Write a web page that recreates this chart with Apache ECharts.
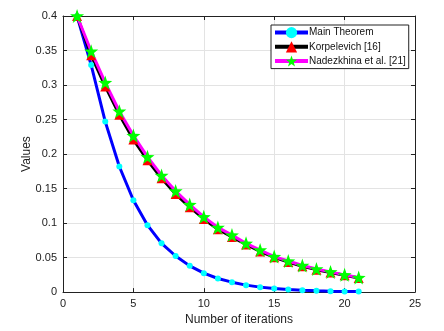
<!DOCTYPE html>
<html>
<head>
<meta charset="utf-8">
<script src="https://cdn.jsdelivr.net/npm/echarts@6/dist/echarts.min.js"></script>
<style>
  html, body { margin: 0; padding: 0; background: #fff; }
  #grafica { width: 444px; height: 331px; }
</style>
</head>
<body>
<div id="grafica"></div>
<script>
// iteraciones 1..21
var iteraciones = [1, 2, 3, 4, 5, 6, 7, 8, 9, 10, 11, 12, 13, 14, 15, 16, 17, 18, 19, 20, 21]
var mainTheorem = [0.4, 0.329, 0.247, 0.182, 0.133, 0.097, 0.0706, 0.0523, 0.038, 0.0274, 0.0197,
  0.0144, 0.0101, 0.0072, 0.0053, 0.0039, 0.0028, 0.002, 0.0014, 0.001, 0.0007]
var korpelevich = [0.4, 0.343, 0.298, 0.257, 0.221, 0.191, 0.165, 0.142, 0.123, 0.106, 0.091,
  0.08, 0.069, 0.059, 0.0505, 0.0435, 0.0375, 0.0325, 0.0283, 0.0243, 0.0205]
var nadezkhina = [0.4, 0.349, 0.3036, 0.262, 0.2267, 0.196, 0.169, 0.1465, 0.1268, 0.109, 0.0937,
  0.0826, 0.0706, 0.061, 0.0514, 0.045, 0.0385, 0.0336, 0.0293, 0.025, 0.021]
var leyenda = ['Main Theorem', 'Korpelevich [16]', 'Nadezkhina et al. [21]']
var xTicks = [0, 5, 10, 15, 20, 25]
var yTicks = [0, 0.05, 0.1, 0.15, 0.2, 0.25, 0.3, 0.35, 0.4]

function pares(valores) {
  return iteraciones.map(function (x, i) { return [x, valores[i]] })
}

// estrella de 5 puntas
function estrella() {
  var pts = []
  for (var k = 0; k < 10; k++) {
    var r = k % 2 == 0 ? 50 : 20
    var a = -Math.PI / 2 + k * Math.PI / 5
    pts.push((50 + r * Math.cos(a)).toFixed(2) + ' ' + (50 + r * Math.sin(a)).toFixed(2))
  }
  return 'path://M' + pts.join(' L') + ' Z'
}

var fuente = 'Liberation Sans'
var gris = '#e3e3e3'

myChart = echarts.init(document.getElementById('grafica'))
option = {
  animation: false,
  textStyle: { fontFamily: fuente },
  grid: { left: 63, right: 29, top: 16, bottom: 37 },
  legend: {
    data: leyenda,
    orient: 'vertical',
    left: 271, top: 25,
    width: 137,
    itemWidth: 33, itemHeight: 14, itemGap: 3,
    padding: [2, 3, 2, 2],
    backgroundColor: '#fff',
    borderColor: '#222',
    borderWidth: 1,
    lineStyle: { width: 4 },
    textStyle: { fontFamily: fuente, fontSize: 10, color: '#111', padding: [0, 0, 0, -4] }
  },
  xAxis: [{
    type: 'value', min: 0, max: 25, interval: 5,
    name: 'Number of iterations', nameLocation: 'middle', nameGap: 21,
    nameTextStyle: { fontSize: 12, color: '#222' },
    axisLine: { onZero: false, lineStyle: { color: '#222', width: 1 } },
    axisTick: { inside: true, length: 4, lineStyle: { color: '#222' } },
    axisLabel: { fontSize: 11, color: '#222', margin: 6 },
    splitLine: { show: true, lineStyle: { color: gris, width: 1 } }
  }, {
    type: 'value', min: 0, max: 25, interval: 5, position: 'top',
    axisLine: { show: true, onZero: false, lineStyle: { color: '#222', width: 1 } },
    axisTick: { inside: true, length: 4, lineStyle: { color: '#222' } },
    axisLabel: { show: false }, splitLine: { show: false }
  }],
  yAxis: [{
    type: 'value', min: 0, max: 0.4, interval: 0.05,
    name: 'Values', nameLocation: 'middle', nameGap: 30, nameMoveOverlap: false,
    nameTextStyle: { fontSize: 12, color: '#222' },
    axisLine: { show: true, onZero: false, lineStyle: { color: '#222', width: 1 } },
    axisTick: { inside: true, length: 4, lineStyle: { color: '#222' } },
    axisLabel: { fontSize: 11, color: '#222', margin: 6 },
    splitLine: { show: true, lineStyle: { color: gris, width: 1 } }
  }, {
    type: 'value', min: 0, max: 0.4, interval: 0.05, position: 'right',
    axisLine: { show: true, onZero: false, lineStyle: { color: '#222', width: 1 } },
    axisTick: { inside: true, length: 4, lineStyle: { color: '#222' } },
    axisLabel: { show: false }, splitLine: { show: false }
  }],
  series: [{
    name: leyenda[0], type: 'line', data: pares(mainTheorem),
    lineStyle: { color: '#0000ff', width: 3 },
    symbol: 'circle', symbolSize: 6,
    itemStyle: { color: '#00ffff', borderWidth: 0 }
  }, {
    name: leyenda[1], type: 'line', data: pares(korpelevich),
    lineStyle: { color: '#000000', width: 3 },
    symbol: 'triangle', symbolSize: 10,
    itemStyle: { color: '#ff0000', borderWidth: 0 }
  }, {
    name: leyenda[2], type: 'line', data: pares(nadezkhina),
    lineStyle: { color: '#ff00ff', width: 3 },
    symbol: estrella(), symbolSize: 14,
    itemStyle: { color: '#00ff00', borderWidth: 0 }
  }]
}
myChart.setOption(option)
</script>
</body>
</html>
